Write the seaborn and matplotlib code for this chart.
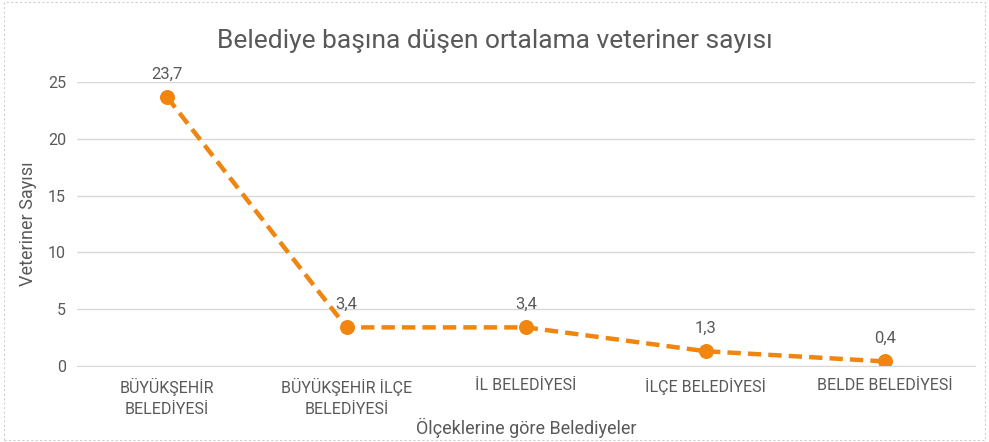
import matplotlib
matplotlib.use("Agg")
import matplotlib.pyplot as plt
import seaborn as sns
import pandas as pd
from matplotlib.patches import Rectangle

# -----------------------------
# Data
categories = ["BÜYÜKŞEHİR\nBELEDİYESİ", "BÜYÜKŞEHİR İLÇE\nBELEDİYESİ",
              "İL BELEDİYESİ", "İLÇE BELEDİYESİ", "BELDE BELEDİYESİ"]
values = [23.7, 3.4, 3.4, 1.3, 0.4]
value_labels = ["23,7", "3,4", "3,4", "1,3", "0,4"]
y_ticks = [0, 5, 10, 15, 20, 25]

data = pd.DataFrame({"Belediye": categories, "Sayi": values})

# -----------------------------
# Style Settings
sns.set_style("white")
plt.rcParams["font.family"] = ["Roboto", "DejaVu Sans"]

orange = "#F0850F"
grey = "#595959"

fig = plt.figure(figsize=(9.89, 4.42), dpi=100)
ax = fig.add_axes([0.078, 0.172, 0.908, 0.642])

x = list(range(len(categories)))
sns.lineplot(x=x, y=data["Sayi"], ax=ax, color=orange, linewidth=3.2,
             linestyle=(0, (3, 1.6)), marker="o", markersize=10,
             markeredgecolor=orange, markerfacecolor=orange)

for xi, v, lab in zip(x, values, value_labels):
    ax.annotate(lab, (xi, v), xytext=(0, 11), textcoords="offset points",
                ha="center", va="bottom", fontsize=12, color=grey)

ax.set_xlim(-0.5, len(categories) - 0.5)
ax.set_ylim(0, 25)
ax.set_yticks(y_ticks)
ax.set_yticklabels([str(t) for t in y_ticks], fontsize=11.5, color=grey)
ax.set_xticks(x)
ax.set_xticklabels(categories, fontsize=11.5, color=grey, linespacing=1.5)
ax.tick_params(axis="both", length=0, pad=8)
ax.tick_params(axis="x", pad=9)

ax.grid(axis="y", color="#D9D9D9", linewidth=1)
ax.set_axisbelow(True)
for side in ["top", "right", "left"]:
    ax.spines[side].set_visible(False)
ax.spines["bottom"].set_color("#D9D9D9")

ax.set_ylabel("Veteriner Sayısı", fontsize=13, color=grey, labelpad=8)
ax.set_xlabel("Ölçeklerine göre Belediyeler", fontsize=13, color=grey, labelpad=0)

fig.suptitle("Belediye başına düşen ortalama veteriner sayısı",
             fontsize=19, color=grey, y=0.935)

# outer chart border
fig.patches.append(Rectangle((0.004, 0.004), 0.992, 0.992, transform=fig.transFigure,
                             fill=False, edgecolor="#D0D0D0", linewidth=0.8,
                             linestyle=(0, (2, 2))))

plt.savefig("out.png", dpi=100)
